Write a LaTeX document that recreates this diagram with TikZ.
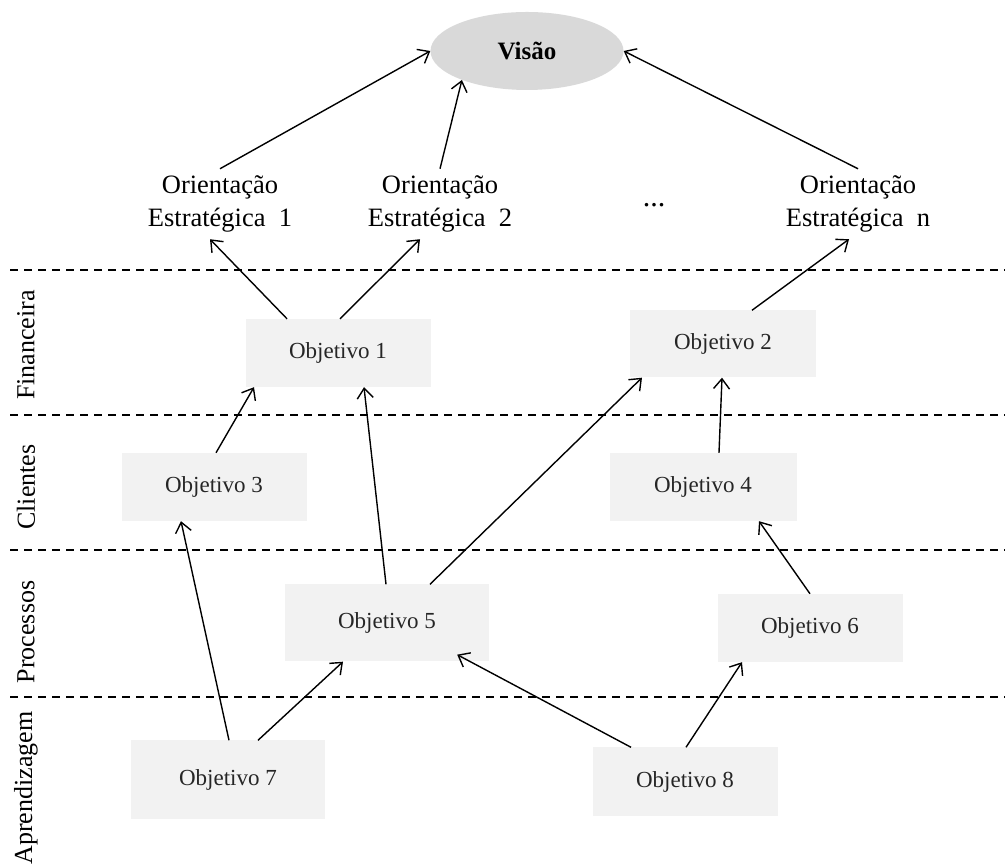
\documentclass[tikz,border=0pt]{standalone}
\usepackage{fontspec}
\setmainfont{Liberation Serif}
\usetikzlibrary{arrows.meta,shapes.geometric}

\tikzset{
  x=1pt, y=1pt,
  objbox/.style={fill=gray!10, minimum width=185pt, minimum height=68pt,
    inner sep=0pt, text=black!85, font=\fontsize{23}{27}\selectfont},
  orient/.style={align=center, inner sep=7pt, font=\fontsize{26.5}{32.5}\selectfont},
  lane/.style={rotate=90, font=\fontsize{26}{30}\selectfont},
  sep/.style={dash pattern=on 8pt off 6pt, line width=1.4pt},
  arr/.style={line width=1.4pt, -{Straight Barb[length=10pt,width=16pt]}},
}

\begin{document}
\begin{tikzpicture}
\useasboundingbox (0,0) rectangle (1005,866);

% lane separators
\foreach \yy in {596,451,316,169}
  \draw[sep] (10,\yy) -- (1005,\yy);

% lane titles
\node[lane] (lfin) at (26,521) {Financeira};
\node[lane] (lcli) at (26,379) {Clientes};
\node[lane] (lpro) at (26,234) {Processos};
\node[lane] (lapr) at (26,78) {Aprendizagem};

% vision
\node[ellipse, fill=gray!30, minimum width=193pt, minimum height=78pt, inner sep=0pt,
      font=\bfseries\fontsize{25}{30}\selectfont] (vis) at (527,815) {Visão};

% strategic orientations
\node[orient] (oe1) at (220,662) {Orientação\\Estratégica\ \ 1};
\node[orient] (oe2) at (440,662) {Orientação\\Estratégica\ \ 2};
\node[font=\fontsize{30}{34}\selectfont] (dots) at (654,661) {...};
\node[orient] (oen) at (858,662) {Orientação\\Estratégica\ \ n};

% objectives
\node[objbox] (o1) at (338,513) {Objetivo 1};
\node[objbox, minimum width=186pt, minimum height=67pt] (o2) at (723,522) {Objetivo 2};
\node[objbox] (o3) at (214,379) {Objetivo 3};
\node[objbox, minimum width=187pt] (o4) at (703,379) {Objetivo 4};
\node[objbox, minimum width=204pt, minimum height=77pt] (o5) at (387,243) {Objetivo 5};
\node[objbox] (o6) at (810,238) {Objetivo 6};
\node[objbox, minimum width=194pt, minimum height=79pt] (o7) at (228,86) {Objetivo 7};
\node[objbox, minimum height=69pt] (o8) at (685,84) {Objetivo 8};

% orientations towards the vision
\draw[arr] (oe1.north) -- (vis.west);
\draw[arr] (oe2.north) -- (vis.204);
\draw[arr] (oen.north) -- (vis.east);

% financial objectives towards orientations
\draw[arr] ([xshift=-51pt]o1.north) -- ([xshift=-10pt]oe1.south);
\draw[arr] ([xshift=2pt]o1.north) -- ([xshift=-20pt]oe2.south);
\draw[arr] ([xshift=29pt]o2.north) -- ([xshift=-9pt]oen.south);

% lower objectives
\draw[arr] ([xshift=2pt]o3.north) -- ([xshift=-84pt]o1.south);
\draw[arr] ([xshift=-1pt]o5.north) -- ([xshift=26pt]o1.south);
\draw[arr] ([xshift=43pt]o5.north) -- ([xshift=-81pt]o2.south);
\draw[arr] ([xshift=16pt]o4.north) -- ([xshift=-1pt]o2.south);
\draw[arr] ([xshift=1pt]o7.north) -- ([xshift=-33pt]o3.south);
\draw[arr] ([xshift=30pt]o7.north) -- ([xshift=-44pt]o5.south);
\draw[arr] ([xshift=-54pt]o8.north) -- ([xshift=-32pt,yshift=7pt]o5.south east);
\draw[arr] ([xshift=1pt]o8.north) -- ([xshift=-68pt]o6.south);
\draw[arr] (o6.north) -- ([xshift=56pt]o4.south);
\end{tikzpicture}
\end{document}
